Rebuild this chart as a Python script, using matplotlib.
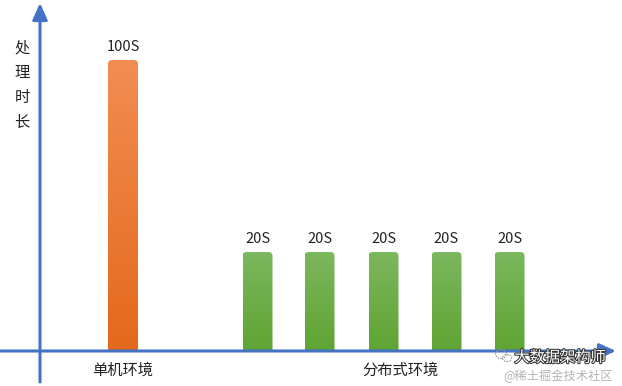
import numpy as np
import matplotlib.pyplot as plt
from matplotlib.patches import FancyBboxPatch, Ellipse
import matplotlib.patheffects as pe

plt.rcParams['font.family'] = ['Noto Sans CJK SC', 'DejaVu Sans']

# data
groups = ['单机环境', '分布式环境']
bar_labels = ['100S', '20S', '20S', '20S', '20S', '20S']
bar_heights = [100, 34, 34, 34, 34, 34]   # drawn heights (not to scale with labels in the original)
bar_group = [0, 1, 1, 1, 1, 1]
ylabel = '处理时长'

# layout (pixel-like x positions)
bar_x = [123, 257.5, 319.5, 383.5, 446.5, 509.5]
group_x = [123, 400]
bar_w = 30
px_per_unit = 2.91

group_colors = [('#F28D52', '#E4691C'), ('#7BB75E', '#5FA433')]
axis_color = '#4472C4'
text_color = '#222222'

fig = plt.figure(figsize=(6.22, 3.86), dpi=100)
ax = fig.add_axes([0, 0, 1, 1])
ax.set_xlim(0, 622)
y0 = -(386 - 351) / px_per_unit
y1 = 351 / px_per_unit
ax.set_ylim(y0, y1)
ax.axis('off')

def hex2rgb(h):
    return np.array([int(h[i:i + 2], 16) for i in (1, 3, 5)]) / 255.0

for x, h, g, lab in zip(bar_x, bar_heights, bar_group, bar_labels):
    top, bot = group_colors[g]
    box = FancyBboxPatch((x - bar_w / 2 + 4, 0.5), bar_w - 8, h - 0.5 - 4 / px_per_unit,
                         boxstyle='round,pad=4', mutation_aspect=1 / px_per_unit,
                         linewidth=0, facecolor='none', zorder=2)
    ax.add_patch(box)
    t = np.linspace(1, 0, 64)[:, None, None]
    grad = t * hex2rgb(top) + (1 - t) * hex2rgb(bot)
    im = ax.imshow(grad, extent=(x - bar_w / 2, x + bar_w / 2, 0, h),
                   aspect='auto', origin='upper', zorder=2, interpolation='bilinear')
    im.set_clip_path(box)
    ax.text(x, h + 4.5, lab, ha='center', va='center', fontsize=10.5,
            fontweight='light', color=text_color)

# axes with arrow heads
ax.annotate('', xy=(616, 0), xytext=(0, 0),
            arrowprops=dict(arrowstyle='-|>,head_length=1.0,head_width=0.45',
                            color=axis_color, lw=2.2, shrinkA=0, shrinkB=0), zorder=3)
ax.annotate('', xy=(40, 351 / px_per_unit - 3 / px_per_unit), xytext=(40, y0 + 4 / px_per_unit),
            arrowprops=dict(arrowstyle='-|>,head_length=1.0,head_width=0.45',
                            color=axis_color, lw=2.2, shrinkA=0, shrinkB=0), zorder=3)

for i, ch in enumerate(ylabel):
    ax.text(22, (351 - 48 - 24.5 * i) / px_per_unit, ch, ha='center', va='center',
            fontsize=11, fontweight='light', color=text_color)

for gx, name in zip(group_x, groups):
    ax.text(gx, -19 / px_per_unit, name, ha='center', va='center', fontsize=11,
            fontweight='light', color=text_color)

# watermark
for ex, ey, ew in [(501, -3, 11), (507, -7, 9)]:
    ax.add_patch(Ellipse((ex, ey / px_per_unit), ew, ew * 0.8 / px_per_unit, fill=False,
                         edgecolor='#999999', lw=0.8, ls=(0, (1.5, 1)), zorder=5))
ax.text(560, -6.5 / px_per_unit, '大数据架构师', ha='center', va='center', fontsize=11,
        color='white', zorder=5,
        path_effects=[pe.withStroke(linewidth=1.5, foreground='#333333')])
ax.text(558, -25 / px_per_unit, '@稀土掘金技术社区', ha='center', va='center', fontsize=8.8,
        fontweight='light', color='#b5b5b5', zorder=5)

fig.savefig('out.png', dpi=100)
